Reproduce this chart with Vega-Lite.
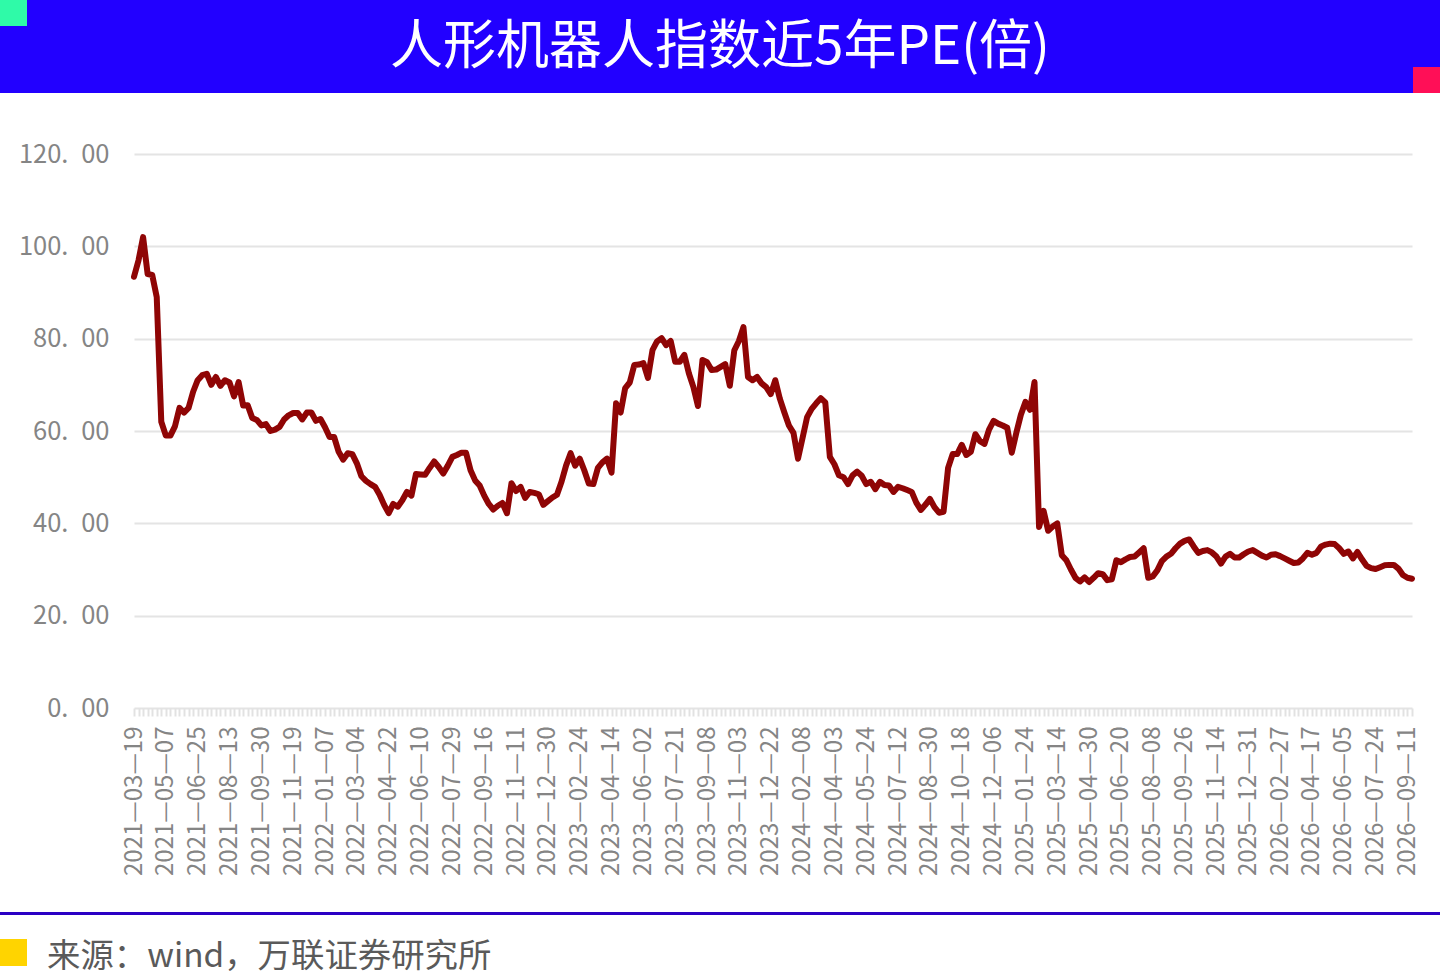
{
  "$schema": "https://vega.github.io/schema/vega-lite/v6.json",
  "width": 1278,
  "height": 554,
  "padding": {"left": 134, "top": 154, "right": 28, "bottom": 272},
  "autosize": "none",
  "background": "white",
  "config": {"view": {"stroke": null}},
  "datasets": {
    "pe": [
      {"date":"2021-03-19","pe":93.4},{"date":"2021-03-26","pe":97},{"date":"2021-04-02","pe":102},{"date":"2021-04-09","pe":94},{"date":"2021-04-16","pe":93.8},{"date":"2021-04-23","pe":89},{"date":"2021-04-30","pe":62},
      {"date":"2021-05-07","pe":59},{"date":"2021-05-14","pe":59},{"date":"2021-05-21","pe":61},{"date":"2021-05-28","pe":65},{"date":"2021-06-04","pe":64},{"date":"2021-06-11","pe":65},{"date":"2021-06-18","pe":68.5},
      {"date":"2021-06-25","pe":71},{"date":"2021-07-02","pe":72.1},{"date":"2021-07-09","pe":72.4},{"date":"2021-07-16","pe":70},{"date":"2021-07-23","pe":71.7},{"date":"2021-07-30","pe":69.8},{"date":"2021-08-06","pe":71},
      {"date":"2021-08-13","pe":70.5},{"date":"2021-08-20","pe":67.5},{"date":"2021-08-27","pe":70.6},{"date":"2021-09-03","pe":65.5},{"date":"2021-09-10","pe":65.6},{"date":"2021-09-17","pe":62.8},{"date":"2021-09-24","pe":62.4},
      {"date":"2021-09-30","pe":61.2},{"date":"2021-10-08","pe":61.5},{"date":"2021-10-15","pe":60},{"date":"2021-10-22","pe":60.3},{"date":"2021-10-29","pe":60.9},{"date":"2021-11-05","pe":62.5},{"date":"2021-11-12","pe":63.4},
      {"date":"2021-11-19","pe":63.9},{"date":"2021-11-26","pe":63.9},{"date":"2021-12-03","pe":62.5},{"date":"2021-12-10","pe":64},{"date":"2021-12-17","pe":64},{"date":"2021-12-24","pe":62.2},{"date":"2021-12-31","pe":62.6},
      {"date":"2022-01-07","pe":60.8},{"date":"2022-01-14","pe":58.7},{"date":"2022-01-21","pe":58.7},{"date":"2022-01-28","pe":55.5},{"date":"2022-02-11","pe":53.8},{"date":"2022-02-18","pe":55.2},{"date":"2022-02-25","pe":55},
      {"date":"2022-03-04","pe":53},{"date":"2022-03-11","pe":50.2},{"date":"2022-03-18","pe":49.2},{"date":"2022-03-25","pe":48.5},{"date":"2022-04-01","pe":47.9},{"date":"2022-04-08","pe":46.2},{"date":"2022-04-15","pe":44},
      {"date":"2022-04-22","pe":42.2},{"date":"2022-04-29","pe":44.2},{"date":"2022-05-06","pe":43.6},{"date":"2022-05-13","pe":45},{"date":"2022-05-20","pe":46.8},{"date":"2022-05-27","pe":46},{"date":"2022-06-02","pe":50.7},
      {"date":"2022-06-10","pe":50.6},{"date":"2022-06-17","pe":50.5},{"date":"2022-06-24","pe":52},{"date":"2022-07-01","pe":53.4},{"date":"2022-07-08","pe":52.2},{"date":"2022-07-15","pe":50.8},{"date":"2022-07-22","pe":52.5},
      {"date":"2022-07-29","pe":54.4},{"date":"2022-08-05","pe":54.8},{"date":"2022-08-12","pe":55.3},{"date":"2022-08-19","pe":55.3},{"date":"2022-08-26","pe":51.5},{"date":"2022-09-02","pe":49.3},{"date":"2022-09-09","pe":48.2},
      {"date":"2022-09-16","pe":46},{"date":"2022-09-23","pe":44.2},{"date":"2022-09-30","pe":43},{"date":"2022-10-14","pe":43.8},{"date":"2022-10-21","pe":44.4},{"date":"2022-10-28","pe":42.2},{"date":"2022-11-04","pe":48.7},
      {"date":"2022-11-11","pe":47},{"date":"2022-11-18","pe":47.9},{"date":"2022-11-25","pe":45.5},{"date":"2022-12-02","pe":46.8},{"date":"2022-12-09","pe":46.6},{"date":"2022-12-16","pe":46.3},{"date":"2022-12-23","pe":44},
      {"date":"2022-12-30","pe":44.8},{"date":"2023-01-06","pe":45.6},{"date":"2023-01-13","pe":46.2},{"date":"2023-01-20","pe":49},{"date":"2023-02-03","pe":52.5},{"date":"2023-02-10","pe":55.2},{"date":"2023-02-17","pe":52.5},
      {"date":"2023-02-24","pe":54},{"date":"2023-03-03","pe":51.5},{"date":"2023-03-10","pe":48.6},{"date":"2023-03-17","pe":48.5},{"date":"2023-03-24","pe":52},{"date":"2023-03-31","pe":53.2},{"date":"2023-04-07","pe":54},
      {"date":"2023-04-14","pe":51},{"date":"2023-04-21","pe":66},{"date":"2023-04-28","pe":64},{"date":"2023-05-05","pe":69.3},{"date":"2023-05-12","pe":70.5},{"date":"2023-05-19","pe":74.3},{"date":"2023-05-26","pe":74.4},
      {"date":"2023-06-02","pe":74.7},{"date":"2023-06-09","pe":71.5},{"date":"2023-06-16","pe":77.5},{"date":"2023-06-21","pe":79.4},{"date":"2023-06-30","pe":80.1},{"date":"2023-07-07","pe":78.6},{"date":"2023-07-14","pe":79.5},
      {"date":"2023-07-21","pe":75},{"date":"2023-07-28","pe":75},{"date":"2023-08-04","pe":76.5},{"date":"2023-08-11","pe":72.5},{"date":"2023-08-18","pe":69.5},{"date":"2023-08-25","pe":65.4},{"date":"2023-09-01","pe":75.4},
      {"date":"2023-09-08","pe":74.9},{"date":"2023-09-15","pe":73.2},{"date":"2023-09-22","pe":73.3},{"date":"2023-09-28","pe":73.9},{"date":"2023-10-13","pe":74.5},{"date":"2023-10-20","pe":69.8},{"date":"2023-10-27","pe":77.5},
      {"date":"2023-11-03","pe":79.5},{"date":"2023-11-10","pe":82.5},{"date":"2023-11-17","pe":71.7},{"date":"2023-11-24","pe":71},{"date":"2023-12-01","pe":71.7},{"date":"2023-12-08","pe":70.3},{"date":"2023-12-15","pe":69.5},
      {"date":"2023-12-22","pe":68},{"date":"2023-12-29","pe":71},{"date":"2024-01-05","pe":67},{"date":"2024-01-12","pe":64},{"date":"2024-01-19","pe":61.2},{"date":"2024-01-26","pe":59.6},{"date":"2024-02-02","pe":54},
      {"date":"2024-02-08","pe":58.5},{"date":"2024-02-23","pe":63},{"date":"2024-03-01","pe":64.8},{"date":"2024-03-08","pe":66},{"date":"2024-03-15","pe":67.1},{"date":"2024-03-22","pe":66.2},{"date":"2024-03-29","pe":54.4},
      {"date":"2024-04-03","pe":52.8},{"date":"2024-04-12","pe":50.4},{"date":"2024-04-19","pe":50},{"date":"2024-04-26","pe":48.5},{"date":"2024-04-30","pe":50.4},{"date":"2024-05-10","pe":51.2},{"date":"2024-05-17","pe":50.3},
      {"date":"2024-05-24","pe":48.5},{"date":"2024-05-31","pe":49},{"date":"2024-06-07","pe":47.4},{"date":"2024-06-14","pe":49},{"date":"2024-06-21","pe":48.3},{"date":"2024-06-28","pe":48.2},{"date":"2024-07-05","pe":46.8},
      {"date":"2024-07-12","pe":47.9},{"date":"2024-07-19","pe":47.6},{"date":"2024-07-26","pe":47.2},{"date":"2024-08-02","pe":46.8},{"date":"2024-08-09","pe":44.5},{"date":"2024-08-16","pe":42.9},{"date":"2024-08-23","pe":44},
      {"date":"2024-08-30","pe":45.3},{"date":"2024-09-06","pe":43.5},{"date":"2024-09-13","pe":42.3},{"date":"2024-09-20","pe":42.5},{"date":"2024-09-27","pe":52},{"date":"2024-09-30","pe":55},{"date":"2024-10-11","pe":55},
      {"date":"2024-10-18","pe":57},{"date":"2024-10-25","pe":54.8},{"date":"2024-11-01","pe":55.5},{"date":"2024-11-08","pe":59.3},{"date":"2024-11-15","pe":57.8},{"date":"2024-11-22","pe":57.2},{"date":"2024-11-29","pe":60.3},
      {"date":"2024-12-06","pe":62.2},{"date":"2024-12-13","pe":61.6},{"date":"2024-12-20","pe":61.2},{"date":"2024-12-27","pe":60.7},{"date":"2025-01-03","pe":55.3},{"date":"2025-01-10","pe":59.6},{"date":"2025-01-17","pe":63.5},
      {"date":"2025-01-24","pe":66.3},{"date":"2025-01-27","pe":64.6},{"date":"2025-02-07","pe":70.6},{"date":"2025-02-14","pe":39.2},{"date":"2025-02-21","pe":42.7},{"date":"2025-02-28","pe":38.4},{"date":"2025-03-07","pe":39.3},
      {"date":"2025-03-14","pe":40},{"date":"2025-03-21","pe":33.1},{"date":"2025-03-28","pe":32},{"date":"2025-04-03","pe":30},{"date":"2025-04-11","pe":28.2},{"date":"2025-04-18","pe":27.4},{"date":"2025-04-25","pe":28.3},
      {"date":"2025-04-30","pe":27.3},{"date":"2025-05-09","pe":28.2},{"date":"2025-05-16","pe":29.2},{"date":"2025-05-23","pe":29},{"date":"2025-05-30","pe":27.7},{"date":"2025-06-06","pe":27.9},{"date":"2025-06-13","pe":32},
      {"date":"2025-06-20","pe":31.6},{"date":"2025-06-27","pe":32.2},{"date":"2025-07-04","pe":32.7},{"date":"2025-07-11","pe":32.8},{"date":"2025-07-18","pe":33.7},{"date":"2025-07-25","pe":34.6},{"date":"2025-08-01","pe":28.2},
      {"date":"2025-08-08","pe":28.5},{"date":"2025-08-15","pe":29.8},{"date":"2025-08-22","pe":31.8},{"date":"2025-08-29","pe":32.8},{"date":"2025-09-05","pe":33.4},{"date":"2025-09-12","pe":34.6},{"date":"2025-09-19","pe":35.6},
      {"date":"2025-09-26","pe":36.2},{"date":"2025-09-30","pe":36.5},{"date":"2025-10-10","pe":35},{"date":"2025-10-17","pe":33.6},{"date":"2025-10-24","pe":34},{"date":"2025-10-31","pe":34.2},{"date":"2025-11-07","pe":33.7},
      {"date":"2025-11-14","pe":32.8},{"date":"2025-11-21","pe":31.3},{"date":"2025-11-28","pe":32.8},{"date":"2025-12-05","pe":33.4},{"date":"2025-12-12","pe":32.6},{"date":"2025-12-19","pe":32.6},{"date":"2025-12-26","pe":33.3},
      {"date":"2025-12-31","pe":33.9},{"date":"2026-01-09","pe":34.2},{"date":"2026-01-16","pe":33.6},{"date":"2026-01-23","pe":33},{"date":"2026-01-30","pe":32.6},{"date":"2026-02-06","pe":33.2},{"date":"2026-02-13","pe":33.3},
      {"date":"2026-02-27","pe":32.9},{"date":"2026-03-06","pe":32.4},{"date":"2026-03-13","pe":31.9},{"date":"2026-03-20","pe":31.4},{"date":"2026-03-27","pe":31.5},{"date":"2026-04-03","pe":32.4},{"date":"2026-04-10","pe":33.6},
      {"date":"2026-04-17","pe":33.2},{"date":"2026-04-24","pe":33.6},{"date":"2026-04-30","pe":35},{"date":"2026-05-08","pe":35.4},{"date":"2026-05-15","pe":35.6},{"date":"2026-05-22","pe":35.5},{"date":"2026-05-29","pe":34.6},
      {"date":"2026-06-05","pe":33.4},{"date":"2026-06-12","pe":33.9},{"date":"2026-06-18","pe":32.4},{"date":"2026-06-26","pe":33.8},{"date":"2026-07-03","pe":32.2},{"date":"2026-07-10","pe":30.8},{"date":"2026-07-17","pe":30.3},
      {"date":"2026-07-24","pe":30.1},{"date":"2026-07-31","pe":30.5},{"date":"2026-08-07","pe":30.9},{"date":"2026-08-14","pe":31},{"date":"2026-08-21","pe":31},{"date":"2026-08-28","pe":30.2},{"date":"2026-09-04","pe":28.8},
      {"date":"2026-09-11","pe":28.2},{"date":"2026-09-18","pe":28}
    ]
  },
  "layer": [
    {
      "data": {"name": "pe"},
      "mark": {"type": "line", "color": "#8f0505", "strokeWidth": 6, "strokeJoin": "round", "strokeCap": "round"},
      "encoding": {
        "x": {
          "field": "date",
          "type": "nominal",
          "sort": null,
          "scale": {"type": "point", "padding": 0},
          "title": null,
          "axis": {
            "domain": false,
            "grid": false,
            "ticks": true,
            "tickColor": "#e2e2e2",
            "tickSize": 8,
            "tickWidth": 2,
            "labelAngle": -90,
            "labelAlign": "right",
            "labelBaseline": "middle",
            "labelPadding": 10,
            "labelOverlap": false,
            "labelFlush": false,
            "labelBound": false,
            "labelFont": "Noto Sans CJK SC",
            "labelFontSize": 24,
            "labelColor": "#858585",
            "labelExpr": "round(datum.index * 281) % 7 == 0 ? replace(replace(datum.label, '-', '—'), '-', '—') : ''"
          }
        },
        "y": {
          "field": "pe",
          "type": "quantitative",
          "scale": {"domain": [0, 120], "nice": false},
          "title": null,
          "axis": {
            "values": [0, 20, 40, 60, 80, 100, 120],
            "domain": false,
            "ticks": false,
            "grid": true,
            "gridColor": "#e4e4e4",
            "gridWidth": 2,
            "labelPadding": 25,
            "labelFont": "Noto Sans CJK SC",
            "labelFontSize": 25.5,
            "labelColor": "#858585",
            "labelExpr": "replace(format(datum.value, '.2f'), '.', '.\u2002')"
          }
        }
      }
    },
    {
      "data": {
        "values": [
          {"part": "banner", "left": 0, "right": 1440, "top": 0, "bottom": 93},
          {"part": "green", "left": 0, "right": 27, "top": 0, "bottom": 26},
          {"part": "pink", "left": 1413, "right": 1440, "top": 67, "bottom": 93},
          {"part": "rule", "left": 0, "right": 1440, "top": 912, "bottom": 915},
          {"part": "yellow", "left": 0, "right": 27, "top": 939, "bottom": 966}
        ]
      },
      "mark": {"type": "rect", "clip": false},
      "encoding": {
        "x": {"field": "left", "type": "quantitative", "scale": {"domain": [134, 1412], "nice": false, "zero": false}, "axis": null},
        "x2": {"field": "right"},
        "y": {"field": "top", "type": "quantitative", "scale": {"domain": [708, 154], "nice": false, "zero": false}, "axis": null},
        "y2": {"field": "bottom"},
        "color": {
          "field": "part",
          "type": "nominal",
          "legend": null,
          "scale": {
            "domain": ["banner", "green", "pink", "rule", "yellow"],
            "range": ["#2200ff", "#2ffaa8", "#ff0f57", "#2a00c4", "#ffd400"]
          }
        }
      }
    },
    {
      "data": {"values": [{"label": "人形机器人指数近5年PE(倍)", "cx": 720, "cy": 48}]},
      "mark": {"type": "text", "font": "Noto Sans CJK SC", "fontSize": 53, "color": "white", "align": "center", "baseline": "middle"},
      "encoding": {
        "x": {"field": "cx", "type": "quantitative", "scale": {"domain": [134, 1412], "nice": false, "zero": false}, "axis": null},
        "y": {"field": "cy", "type": "quantitative", "scale": {"domain": [708, 154], "nice": false, "zero": false}, "axis": null},
        "text": {"field": "label"}
      }
    },
    {
      "data": {"values": [{"label": "来源：wind，万联证券研究所", "cx": 47, "cy": 957}]},
      "mark": {"type": "text", "font": "Noto Sans CJK SC", "fontSize": 33.4, "color": "#5a5a5a", "align": "left", "baseline": "middle"},
      "encoding": {
        "x": {"field": "cx", "type": "quantitative", "scale": {"domain": [134, 1412], "nice": false, "zero": false}, "axis": null},
        "y": {"field": "cy", "type": "quantitative", "scale": {"domain": [708, 154], "nice": false, "zero": false}, "axis": null},
        "text": {"field": "label"}
      }
    }
  ],
  "resolve": {"scale": {"x": "independent", "y": "independent", "color": "independent"}}
}
